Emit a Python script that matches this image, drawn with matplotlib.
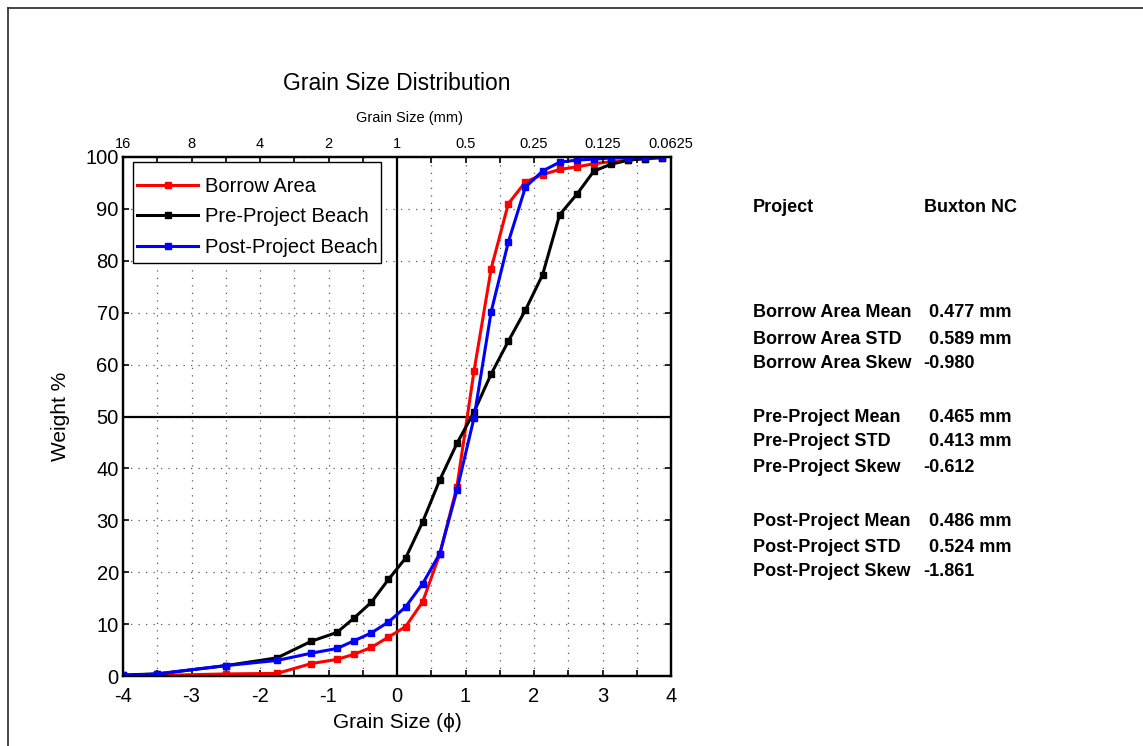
import matplotlib
matplotlib.use("Agg")
import matplotlib.pyplot as plt
from matplotlib.lines import Line2D
from matplotlib.patches import Rectangle

plt.rcParams['font.family'] = ['Liberation Sans', 'DejaVu Sans']

# ---------------- data ----------------
phi = [-4.0, -3.5, -2.5, -1.75, -1.25, -0.875, -0.625, -0.375, -0.125, 0.125,
       0.375, 0.625, 0.875, 1.125, 1.375, 1.625, 1.875, 2.125, 2.375, 2.625,
       2.875, 3.125, 3.375, 3.625, 3.875]
borrow = [0.0, 0.1, 0.4, 0.5, 2.4, 3.2, 4.2, 5.5, 7.5, 9.5,
          14.3, 23.5, 36.5, 58.8, 78.5, 91.0, 95.2, 96.6, 97.6, 98.1,
          98.7, 99.1, 99.4, 99.7, 99.9]
pre = [0.2, 0.4, 2.0, 3.5, 6.7, 8.4, 11.2, 14.2, 18.6, 22.7,
       29.7, 37.8, 44.8, 50.9, 58.2, 64.5, 70.5, 77.3, 88.9, 92.8,
       97.3, 98.6, 99.4, 99.7, 99.9]
post = [0.1, 0.4, 2.0, 3.0, 4.4, 5.3, 6.8, 8.3, 10.4, 13.3,
        17.8, 23.6, 35.8, 49.8, 70.2, 83.6, 94.2, 97.3, 99.0, 99.4,
        99.6, 99.8, 99.9, 100.0, 100.0]
series_names = ['Borrow Area', 'Pre-Project Beach', 'Post-Project Beach']

phi_ticks = [-4, -3, -2, -1, 0, 1, 2, 3, 4]
mm_labels = ['16', '8', '4', '2', '1', '0.5', '0.25', '0.125', '0.0625']
y_ticks = [0, 10, 20, 30, 40, 50, 60, 70, 80, 90, 100]

project_label = 'Project'
project_name = 'Buxton NC'
stat_labels = ['Borrow Area Mean', 'Borrow Area STD', 'Borrow Area Skew',
               'Pre-Project Mean', 'Pre-Project STD', 'Pre-Project Skew',
               'Post-Project Mean', 'Post-Project STD', 'Post-Project Skew']
stat_values = ['0.477 mm', '0.589 mm', '-0.980',
               '0.465 mm', '0.413 mm', '-0.612',
               '0.486 mm', '0.524 mm', '-1.861']

# ---------------- figure ----------------
W, H = 1143, 746
fig = plt.figure(figsize=(W / 100, H / 100), dpi=100)
fig.patch.set_facecolor('white')

# outer border
fig.add_artist(Line2D([8 / W, 8 / W], [0, 1 - 8 / H], transform=fig.transFigure,
                      color='0.15', lw=1.2))
fig.add_artist(Line2D([8 / W, 1], [1 - 8 / H, 1 - 8 / H], transform=fig.transFigure,
                      color='0.15', lw=1.2))

left, right, top, bottom = 123, 671, 157, 676
aw, ah = right - left, bottom - top
ax = fig.add_axes([left / W, 1 - bottom / H, aw / W, ah / H])

ax.set_xlim(-4, 4)
ax.set_ylim(0, 100)

# grid
minor_x = [-4 + 0.5 * i for i in range(17)]
for xv in minor_x:
    ax.axvline(xv, color='0.35', lw=0.9, dashes=(1, 5), zorder=0.5)
for yv in y_ticks:
    ax.axhline(yv, color='0.35', lw=0.9, dashes=(1, 5), zorder=0.5)

ax.axvline(0, color='black', lw=1.6, zorder=1)
ax.axhline(50, color='black', lw=1.6, zorder=1)

colors = ['#ff0000', '#000000', '#0000ff']
for data, c, name in zip([borrow, pre, post], colors, series_names):
    ax.plot(phi, data, color=c, lw=2.2, marker='s', markersize=4.3,
            markeredgecolor=c, markerfacecolor=c, label=name, zorder=3)

ax.set_xticks(minor_x)
ax.set_xticklabels([('%d' % v) if float(v).is_integer() else '' for v in minor_x])
ax.set_yticks(y_ticks)
ax.set_yticklabels([str(v) for v in y_ticks])
ax.tick_params(axis='x', direction='in', length=4, width=1.2, labelsize=14.5, pad=8,
               top=False)
ax.tick_params(axis='y', direction='in', length=4, width=1.2, labelsize=14.5, pad=3,
               right=True)
for s in ax.spines.values():
    s.set_linewidth(1.6)

ax2 = ax.twiny()
ax2.set_xlim(ax.get_xlim())
ax2.set_xticks(minor_x)
lab_iter = iter(mm_labels)
ax2.set_xticklabels([next(lab_iter) if float(v).is_integer() else '' for v in minor_x])
ax2.tick_params(axis='x', direction='in', length=4, width=1.2, labelsize=10.5, pad=4)
for s in ax2.spines.values():
    s.set_linewidth(1.6)

# legend frame drawn as a rectangle (axes coords)
fx0 = (133 - left) / aw
fy0 = (bottom - 263) / ah
fw = (381 - 133) / aw
fh = (263 - 162) / ah
frame = Rectangle((fx0, fy0), fw, fh, transform=ax.transAxes, facecolor='white',
                  edgecolor='black', lw=1.0, zorder=4)
ax.add_patch(frame)

leg = ax.legend(loc='upper left', bbox_to_anchor=((137 - left) / aw, (bottom - 177) / ah),
                borderaxespad=0, fontsize=14.5, frameon=False,
                handlelength=3.05, handletextpad=0.35, labelspacing=0.57,
                borderpad=0.0, numpoints=1)
leg.set_zorder(5)

# titles / labels
fig.text(397 / W, 1 - 84 / H, 'Grain Size Distribution', ha='center', va='center',
         fontsize=16.5)
fig.text(410 / W, 1 - 118 / H, 'Grain Size (mm)', ha='center', va='center',
         fontsize=10.5)
fig.text(397 / W, 1 - 722 / H, 'Grain Size (ϕ)', ha='center', va='center',
         fontsize=15)
fig.text(60 / W, 1 - 416 / H, 'Weight %', ha='center', va='center',
         rotation=90, fontsize=15)

# stats text
fig.text(753 / W, 1 - 208 / H, project_label, ha='left', va='center',
         fontsize=13, fontweight='bold')
fig.text(924 / W, 1 - 208 / H, project_name, ha='left', va='center',
         fontsize=13, fontweight='bold')
rows_y = [313, 339, 364, 417, 442, 468, 521, 547, 572]
for yy, lab, val in zip(rows_y, stat_labels, stat_values):
    fig.text(753 / W, 1 - yy / H, lab, ha='left', va='center',
             fontsize=13, fontweight='bold')
    xv = 923 if val.startswith('-') else 929
    fig.text(xv / W, 1 - yy / H, val, ha='left', va='center',
             fontsize=13, fontweight='bold')

fig.savefig('out.png', dpi=100)
